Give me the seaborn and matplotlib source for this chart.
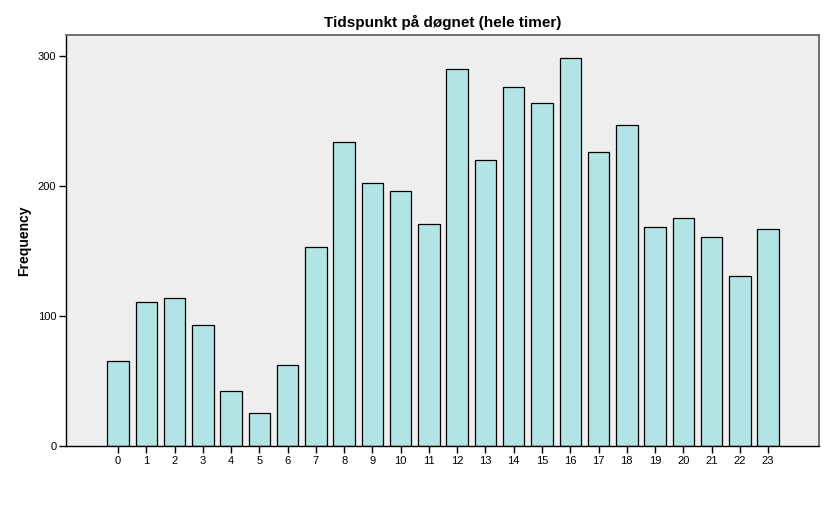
import matplotlib
matplotlib.use("Agg")
import matplotlib.pyplot as plt
import seaborn as sns
import pandas as pd

hours = [str(h) for h in range(24)]
counts = [65, 111, 114, 93, 42, 25, 62, 153, 234, 202, 196, 171,
          290, 220, 276, 264, 298, 226, 247, 168, 175, 161, 131, 167]

df = pd.DataFrame({"hour": hours, "count": counts})

sns.set_style("white")
plt.rcParams['font.family'] = ['Arial', 'Liberation Sans', 'DejaVu Sans']
plt.rcParams['text.color'] = 'black'
plt.rcParams['axes.labelcolor'] = 'black'
plt.rcParams['xtick.color'] = 'black'
plt.rcParams['ytick.color'] = 'black'

fig = plt.figure(figsize=(8.29, 5.05), dpi=100)
ax = fig.add_axes([66/829, 59/505, (819-66)/829, (446-35)/505])
ax.set_facecolor("#EFEFEF")

sns.barplot(data=df, x="hour", y="count", order=hours, color="#B4E5E6",
            edgecolor="black", linewidth=0.9, width=0.76, saturation=1, ax=ax)

ax.set_xlim(-1.84, 24.8)
ax.set_ylim(0, 316)
ax.set_yticks([0, 100, 200, 300])
ax.tick_params(axis="both", which="both", length=5, width=1, labelsize=8,
               direction="out", colors="black", pad=2,
               bottom=True, left=True)
ax.set_xlabel("")
ax.set_ylabel("Frequency", fontsize=10, fontweight="bold", labelpad=5, color="black")
ax.set_title("Tidspunkt på døgnet (hele timer)", fontsize=11, fontweight="bold",
             pad=6, color="black")

for side in ["left", "bottom"]:
    ax.spines[side].set_color("black")
    ax.spines[side].set_linewidth(1)
for side in ["top", "right"]:
    ax.spines[side].set_color("#666666")
    ax.spines[side].set_linewidth(1.3)
    ax.spines[side].set_visible(True)

fig.savefig("out.png", dpi=100)
